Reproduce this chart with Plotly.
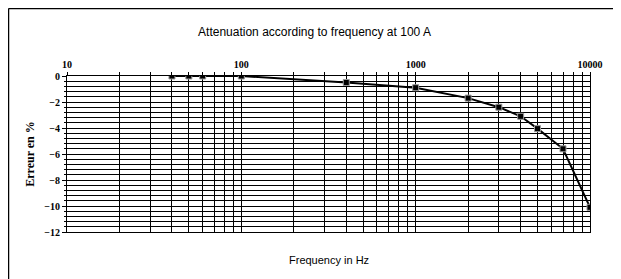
import plotly.graph_objects as go

freq_hz = [40, 50, 60, 100, 400, 1000, 2000, 3000, 4000, 5000, 7000, 10000]
error_pct = [0.0, 0.0, 0.0, 0.0, -0.5, -0.9, -1.7, -2.4, -3.1, -4.05, -5.6, -10.1]

decade_vals = [10, 100, 1000, 10000]
decade_text = ["10", "100", "1000", "10000"]
y_ticks = [0, -2, -4, -6, -8, -10, -12]

# page has an 8px body margin; figure sized to fit the 621x279 window
W, H = 613, 271
ML, MR, MT, MB = 59, 31, 68, 47

# all log grid positions (1..9 x decade)
grid_vals = []
grid_text = []
for d in decade_vals[:-1]:
    for k in range(1, 10):
        grid_vals.append(d * k)
        grid_text.append(decade_text[decade_vals.index(d)] if k == 1 else "")
grid_vals.append(decade_vals[-1])
grid_text.append(decade_text[-1])

fig = go.Figure()
fig.add_trace(go.Scatter(
    x=freq_hz, y=error_pct, mode="lines+markers",
    line=dict(color="black", width=2),
    marker=dict(symbol="square", size=6, color="black",
                line=dict(color="#999999", width=1)),
    showlegend=False,
))

serif_bold = dict(family="Liberation Serif", size=10, color="black", weight="bold")

fig.update_layout(
    width=W, height=H,
    margin=dict(l=ML, r=MR, t=MT, b=MB),
    paper_bgcolor="white", plot_bgcolor="white",
    title=dict(text="Attenuation according to frequency at 100 A",
               x=0.5, xref="container", y=1 - 24 / H, yref="container",
               xanchor="center", yanchor="middle",
               font=dict(family="Liberation Sans", size=12, color="black")),
    xaxis=dict(type="log", range=[1, 4], side="top",
               tickvals=grid_vals, ticktext=grid_text,
               tickfont=serif_bold,
               showgrid=True, gridcolor="black", gridwidth=1,
               showline=True, linecolor="black", linewidth=1,
               ticks="outside", ticklen=3, tickcolor="black",
               mirror=True, zeroline=False),
    yaxis=dict(range=[-12, 0], tickvals=y_ticks,
               tickfont=serif_bold,
               showgrid=True, gridcolor="black", gridwidth=1,
               showline=True, linecolor="black", linewidth=1,
               ticks="outside", ticklen=4, tickcolor="black",
               mirror=True, zeroline=False,
               minor=dict(dtick=0.4, tick0=0, showgrid=True, gridcolor="black",
                          gridwidth=1, ticks="outside", ticklen=2, tickcolor="black"),
               title=dict(text="Erreur en %", standoff=7,
                          font=dict(family="Liberation Serif", size=12,
                                    color="black", weight="bold"))),
)

pw = W - ML - MR
ph = H - MT - MB

def px_to_paper_x(px):
    return (px - ML) / pw

def py_to_paper_y(py):
    return (H - MB - py) / ph

fig.add_annotation(text="Frequency in Hz", xref="paper", yref="paper",
                   x=0.5, y=py_to_paper_y(252), xanchor="center", yanchor="middle",
                   showarrow=False,
                   font=dict(family="Liberation Sans", size=11, color="black"))

# frame lines (left and top edges of the figure)
fig.add_shape(type="line", xref="paper", yref="paper",
              x0=px_to_paper_x(0.5), y0=py_to_paper_y(0.5),
              x1=px_to_paper_x(W), y1=py_to_paper_y(0.5),
              line=dict(color="black", width=1.5))
fig.add_shape(type="line", xref="paper", yref="paper",
              x0=px_to_paper_x(0.5), y0=py_to_paper_y(0.5),
              x1=px_to_paper_x(0.5), y1=py_to_paper_y(H),
              line=dict(color="black", width=1.5))

fig.write_html("out.html", config={"displayModeBar": False},
               post_script="document.body.style.overflow='hidden';")
